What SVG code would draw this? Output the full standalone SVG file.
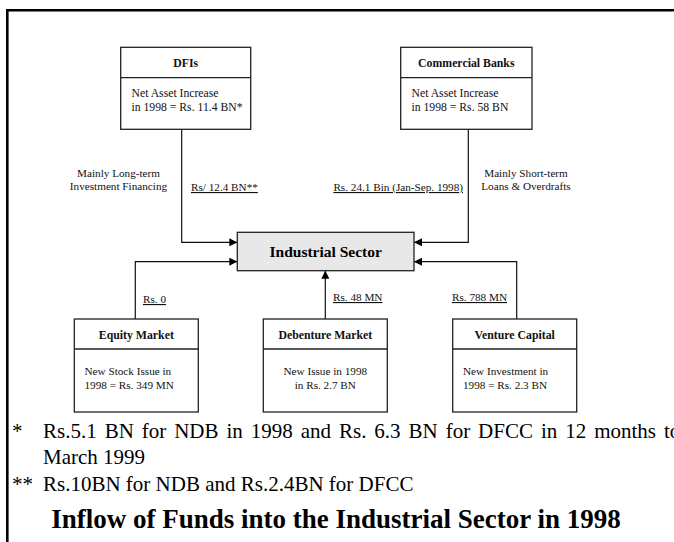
<svg xmlns="http://www.w3.org/2000/svg" width="674" height="542" viewBox="0 0 674 542">
  <style>
    .frame { fill: none; stroke: #000; stroke-width: 2.6; }
    .box { fill: #fff; stroke: #222; stroke-width: 1.3; }
    .hub { fill: #e8e8e8; stroke: #222; stroke-width: 1.3; }
    .div { stroke: #222; stroke-width: 1.3; }
    .title { font-family: "Liberation Serif", "Times New Roman", serif; font-weight: bold; font-size: 11.8px; fill: #111; text-anchor: middle; }
    .body { font-family: "Liberation Serif", "Times New Roman", serif; font-size: 11.7px; fill: #111; }
    .small { font-family: "Liberation Serif", "Times New Roman", serif; font-size: 11.2px; fill: #111; }
    .lbl { font-family: "Liberation Serif", "Times New Roman", serif; font-size: 11.2px; fill: #111; text-decoration: underline; }
    .conn { fill: none; stroke: #111; stroke-width: 1.2; marker-end: url(#arrow); }
    .note { font-family: "Liberation Serif", "Times New Roman", serif; font-size: 21px; fill: #000; }
    .caption { font-family: "Liberation Serif", "Times New Roman", serif; font-weight: bold; fill: #000; text-anchor: middle; }
  </style>
  <defs>
    <marker id="arrow" viewBox="0 0 10 10" refX="10" refY="5" markerWidth="8" markerHeight="8" markerUnits="userSpaceOnUse" orient="auto">
      <path d="M0,0 L10,5 L0,10 z" fill="#000"/>
    </marker>
  </defs>

  <rect width="674" height="542" fill="#fff"/>
  <!-- page frame, open on the right and bottom -->
  <path class="frame" d="M7.3,542 V10.3 H674"/>

  <!-- connectors -->
  <g id="connectors">
    <path class="conn" d="M181.7,129.3 V242.3 H237.3"/>
    <path class="conn" d="M468.3,129.3 V242.3 H414"/>
    <path class="conn" d="M135.3,319 V261.7 H237.3"/>
    <path class="conn" d="M516.7,319 V261.7 H414"/>
    <path class="conn" d="M325.3,319 V270.7"/>
  </g>

  <g id="connector-labels">
    <text class="small" x="118.5" y="177" text-anchor="middle">Mainly Long-term</text>
    <text class="small" x="118.5" y="190" text-anchor="middle">Investment Financing</text>
    <text class="lbl" x="191" y="191">Rs/ 12.4 BN**</text>
    <text class="lbl" x="463" y="191" text-anchor="end">Rs. 24.1 Bin (Jan-Sep. 1998)</text>
    <text class="small" x="526" y="177" text-anchor="middle">Mainly Short-term</text>
    <text class="small" x="526" y="190" text-anchor="middle">Loans &amp; Overdrafts</text>
    <text class="lbl" x="143" y="303">Rs. 0</text>
    <text class="lbl" x="333" y="301">Rs. 48 MN</text>
    <text class="lbl" x="452" y="301">Rs. 788 MN</text>
  </g>

  <g id="dfis">
    <rect class="box" x="120.7" y="47.3" width="130" height="82"/>
    <line class="div" x1="120.7" y1="77.7" x2="250.7" y2="77.7"/>
    <text class="title" x="185.7" y="67">DFIs</text>
    <text class="body" x="131.5" y="97">Net Asset Increase</text>
    <text class="body" x="131.5" y="111">in 1998 = Rs. 11.4 BN*</text>
  </g>

  <g id="commercial-banks">
    <rect class="box" x="400.7" y="47.3" width="131.3" height="82"/>
    <line class="div" x1="400.7" y1="77.7" x2="532" y2="77.7"/>
    <text class="title" x="466.3" y="67">Commercial Banks</text>
    <text class="body" x="411.5" y="97">Net Asset Increase</text>
    <text class="body" x="411.5" y="111">in 1998 = Rs. 58 BN</text>
  </g>

  <g id="industrial-sector">
    <rect class="hub" x="237.3" y="232.3" width="176.7" height="38.4"/>
    <text class="caption" x="325.7" y="256.5" style="font-size:15.5px">Industrial Sector</text>
  </g>

  <g id="equity-market">
    <rect class="box" x="74.3" y="319" width="124" height="93"/>
    <line class="div" x1="74.3" y1="349" x2="198.3" y2="349"/>
    <text class="title" x="136.3" y="338.5">Equity Market</text>
    <text class="small" x="84.5" y="375">New Stock Issue in</text>
    <text class="small" x="84.5" y="389">1998 = Rs. 349 MN</text>
  </g>

  <g id="debenture-market">
    <rect class="box" x="263.3" y="319" width="124" height="93"/>
    <line class="div" x1="263.3" y1="349" x2="387.3" y2="349"/>
    <text class="title" x="325.3" y="338.5">Debenture Market</text>
    <text class="small" x="325.3" y="375" text-anchor="middle">New Issue in 1998</text>
    <text class="small" x="325.3" y="389" text-anchor="middle">in Rs. 2.7 BN</text>
  </g>

  <g id="venture-capital">
    <rect class="box" x="452.7" y="319" width="124" height="93"/>
    <line class="div" x1="452.7" y1="349" x2="576.7" y2="349"/>
    <text class="title" x="514.7" y="338.5">Venture Capital</text>
    <text class="small" x="463" y="375">New Investment in</text>
    <text class="small" x="463" y="389">1998 = Rs. 2.3 BN</text>
  </g>

  <!-- footnotes -->
  <g id="notes">
    <text class="note" x="12" y="438">*</text>
    <text class="note" x="43" y="438" word-spacing="2.7">Rs.5.1 BN for NDB in 1998 and Rs. 6.3 BN for DFCC in 12 months to</text>
    <text class="note" x="43" y="464">March 1999</text>
    <text class="note" x="12" y="491">**</text>
    <text class="note" x="43" y="491">Rs.10BN for NDB and Rs.2.4BN for DFCC</text>
  </g>

  <text class="caption" x="336" y="528" style="font-size:27px">Inflow of Funds into the Industrial Sector in 1998</text>
</svg>
